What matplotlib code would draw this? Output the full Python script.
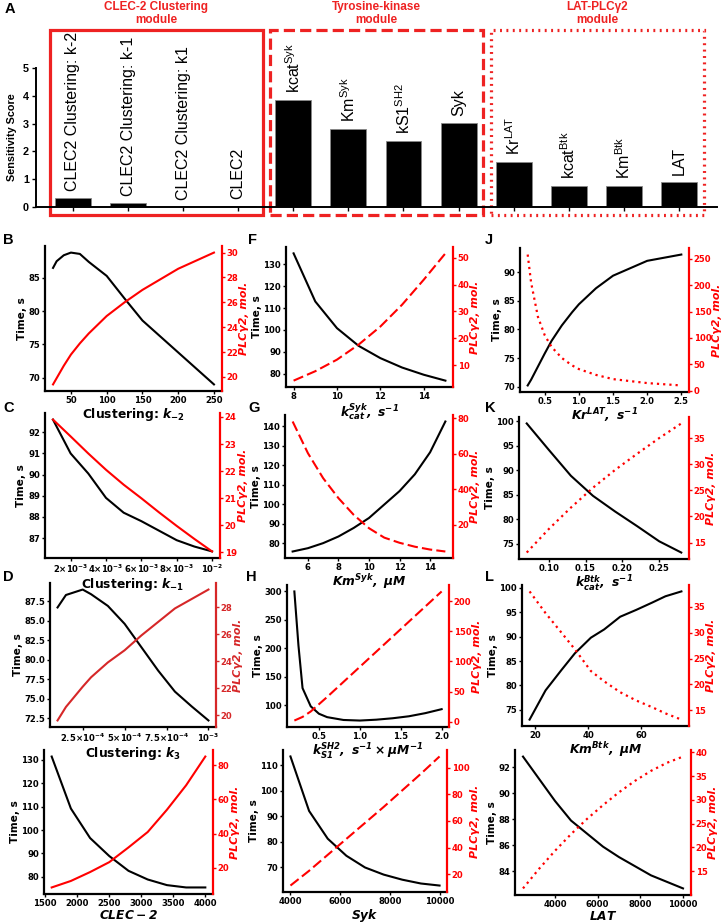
import matplotlib
matplotlib.use('Agg')
import matplotlib.pyplot as plt
from matplotlib.patches import Rectangle

W, H = 727, 922

plt.rcParams['font.family'] = 'DejaVu Sans'
plt.rcParams['font.weight'] = 'bold'
plt.rcParams['axes.labelweight'] = 'bold'

# ---- panel A: sensitivity scores ----
bar_labels = ['CLEC2 Clustering: k-2', 'CLEC2 Clustering: k-1', 'CLEC2 Clustering: k1', 'CLEC2',
              r'kcat$^{\mathregular{Syk}}$', r'Km$^{\mathregular{Syk}}$', r'kS1$^{\mathregular{SH2}}$', 'Syk',
              r'Kr$^{\mathregular{LAT}}$', r'kcat$^{\mathregular{Btk}}$', r'Km$^{\mathregular{Btk}}$', 'LAT']
scores = [0.33, 0.15, 0.0, 0.05, 3.85, 2.79, 2.37, 3.03, 1.63, 0.77, 0.77, 0.89]
module_titles = ['CLEC-2 Clustering\nmodule', 'Tyrosine-kinase\nmodule', 'LAT-PLCγ2\nmodule']

# ---- panels B-M: time (black) and PLCγ2 (red) ----
b_x = [25, 30, 40, 50, 62.5, 75, 100, 125, 150, 200, 250]
b_time = [86.5, 87.5, 88.4, 88.8, 88.6, 87.4, 85.3, 81.9, 78.6, 73.8, 69.0]
b_plc = [19.4, 19.9, 20.9, 21.8, 22.7, 23.5, 24.9, 26.0, 27.0, 28.7, 30.0]
b_xticks = [50, 100, 150, 200, 250]
b_tticks = [70, 75, 80, 85]
b_pticks = [20, 22, 24, 26, 28, 30]

c_x = [0.001, 0.002, 0.003, 0.004, 0.005, 0.006, 0.007, 0.008, 0.009, 0.010]
c_time = [92.6, 91.0, 90.05, 88.9, 88.2, 87.8, 87.35, 86.9, 86.6, 86.37]
c_plc = [23.9, 23.28, 22.65, 22.05, 21.5, 21.0, 20.48, 19.98, 19.5, 19.04]
c_xticks = [0.002, 0.004, 0.006, 0.008, 0.010]
c_xticklabels = [r'$\mathbf{2{\times}10^{-3}}$', r'$\mathbf{4{\times}10^{-3}}$', r'$\mathbf{6{\times}10^{-3}}$',
                 r'$\mathbf{8{\times}10^{-3}}$', r'$\mathbf{10^{-2}}$']
c_tticks = [87, 88, 89, 90, 91, 92]
c_pticks = [19, 20, 21, 22, 23, 24]

d_x = [1e-4, 1.5e-4, 2.5e-4, 3e-4, 4e-4, 5e-4, 6e-4, 7e-4, 8e-4, 9e-4, 1e-3]
d_time = [86.7, 88.3, 89.0, 88.4, 86.9, 84.6, 81.6, 78.6, 75.9, 74.0, 72.2]
d_plc = [19.6, 20.6, 22.1, 22.8, 23.9, 24.8, 25.9, 26.9, 27.9, 28.6, 29.3]
d_xticks = [2.5e-4, 5e-4, 7.5e-4, 1e-3]
d_xticklabels = [r'$\mathbf{2.5{\times}10^{-4}}$', r'$\mathbf{5{\times}10^{-4}}$',
                 r'$\mathbf{7.5{\times}10^{-4}}$', r'$\mathbf{10^{-3}}$']
d_tticks = [72.5, 75.0, 77.5, 80.0, 82.5, 85.0, 87.5]
d_pticks = [20, 22, 24, 26, 28]

e_x = [1600, 1900, 2200, 2500, 2800, 3100, 3400, 3700, 4000]
e_time = [131.4, 109.2, 96.6, 88.9, 82.6, 78.9, 76.5, 75.5, 75.5]
e_plc = [8.5, 12.3, 17.5, 23.3, 31.9, 40.9, 53.9, 68.2, 85.0]
e_xticks = [1500, 2000, 2500, 3000, 3500, 4000]
e_tticks = [80, 90, 100, 110, 120, 130]
e_pticks = [20, 40, 60, 80]

f_x = [8, 9, 10, 11, 12, 13, 14, 15]
f_time = [135.0, 113.0, 100.8, 92.7, 87.1, 82.8, 79.5, 76.8]
f_plc = [4.3, 7.8, 12.1, 17.7, 24.4, 32.5, 41.8, 51.6]
f_xticks = [8, 10, 12, 14]
f_tticks = [80, 90, 100, 110, 120, 130]
f_pticks = [10, 20, 30, 40, 50]

g_x = [5, 6, 7, 8, 9, 10, 11, 12, 13, 14, 15]
g_time = [75.7, 77.4, 80.0, 83.4, 87.8, 92.9, 99.8, 106.7, 115.3, 126.6, 142.4]
g_plc = [78.1, 60.3, 46.2, 35.0, 25.6, 18.1, 12.8, 9.9, 7.7, 6.1, 5.0]
g_xticks = [6, 8, 10, 12, 14]
g_tticks = [80, 90, 100, 110, 120, 130, 140]
g_pticks = [20, 40, 60, 80]

h_x = [0.2, 0.25, 0.3, 0.4, 0.5, 0.6, 0.8, 1.0, 1.2, 1.4, 1.6, 1.8, 2.0]
h_time = [300, 205, 130, 98, 85, 79, 74, 73, 74.5, 77, 80.5, 86, 93]
h_plc = [2, 5, 8, 17, 29, 41, 66, 91, 116, 141, 166, 191, 216]
h_xticks = [0.5, 1.0, 1.5, 2.0]
h_tticks = [100, 150, 200, 250, 300]
h_pticks = [0, 50, 100, 150, 200]

i_x = [4000, 4750, 5500, 6250, 7000, 7750, 8500, 9250, 10000]
i_time = [113.5, 92.1, 81.2, 74.5, 69.9, 67.1, 65.1, 63.6, 62.8]
i_plc = [11.4, 22.5, 34.5, 46.5, 58.5, 70.5, 83, 95.5, 108.5]
i_xticks = [4000, 6000, 8000, 10000]
i_tticks = [70, 80, 90, 100, 110]
i_pticks = [20, 40, 60, 80, 100]

j_x = [0.25, 0.3, 0.4, 0.5, 0.6, 0.75, 0.9, 1.0, 1.25, 1.5, 2.0, 2.5]
j_time = [70.2, 71.2, 73.5, 75.8, 78.0, 80.7, 83.0, 84.4, 87.2, 89.4, 92.0, 93.1]
j_plc = [258, 205, 140, 105, 83, 62, 48, 41, 30, 22, 14.5, 10]
j_xticks = [0.5, 1.0, 1.5, 2.0, 2.5]
j_tticks = [70, 75, 80, 85, 90]
j_pticks = [0, 50, 100, 150, 200, 250]

k_x = [0.07, 0.10, 0.13, 0.16, 0.19, 0.22, 0.25, 0.28]
k_time = [99.6, 94.2, 88.9, 84.8, 81.6, 78.6, 75.5, 73.2]
k_plc = [13.1, 17.6, 21.7, 25.5, 28.9, 32.0, 35.0, 37.8]
k_xticks = [0.10, 0.15, 0.20, 0.25]
k_tticks = [75, 80, 85, 90, 95, 100]
k_pticks = [15, 20, 25, 30, 35]

l_x = [18, 24, 30, 35, 41, 46, 52, 58, 64, 69, 75]
l_time = [73.0, 79.0, 83.2, 86.6, 89.8, 91.5, 94.1, 95.5, 97.0, 98.3, 99.3]
l_plc = [38.0, 33.8, 30.0, 26.8, 22.6, 20.6, 18.5, 16.9, 15.6, 14.4, 13.2]
l_xticks = [20, 40, 60]
l_tticks = [75, 80, 85, 90, 95, 100]
l_pticks = [15, 20, 25, 30, 35]

m_x = [2500, 3250, 4000, 4750, 5500, 6250, 7000, 7750, 8500, 9250, 10000]
m_time = [92.8, 91.1, 89.4, 87.9, 86.9, 85.9, 85.1, 84.4, 83.7, 83.2, 82.7]
m_plc = [11.4, 15.5, 19.3, 22.8, 26.0, 28.9, 31.6, 34.0, 36.1, 37.8, 39.1]
m_xticks = [4000, 6000, 8000, 10000]
m_tticks = [84, 86, 88, 90, 92]
m_pticks = [15, 20, 25, 30, 35, 40]


def px_rect(l, t, r, b):
    return [l / W, 1 - b / H, (r - l) / W, (b - t) / H]


def draw_panel(fig, rect, x, t, p, xlabel, ls, red, xticks, tticks, pticks, xticklabels=None):
    ax = fig.add_axes(px_rect(*rect))
    ax.set_facecolor('none')
    ax.plot(x, t, color='black', lw=1.5)
    ax2 = ax.twinx()
    if ls == ':':
        ax2.plot(x, p, color=red, lw=1.6, linestyle=(0, (1, 1.8)))
    else:
        ax2.plot(x, p, color=red, lw=1.5, linestyle=ls)
    for s in ['top', 'right']:
        ax.spines[s].set_visible(False)
    for s in ['top', 'left', 'bottom']:
        ax2.spines[s].set_visible(False)
    ax.spines['left'].set_linewidth(1.6)
    ax.spines['bottom'].set_linewidth(1.6)
    ax2.spines['right'].set_linewidth(1.6)
    ax2.spines['right'].set_color(red)
    ax.tick_params(labelsize=6.1, width=1, length=2.2, pad=1.3)
    ax2.tick_params(labelsize=6.1, width=1, length=2.2, pad=1.3, colors=red)
    if xticklabels is not None:
        ax.set_xticks(xticks, xticklabels)
    else:
        ax.set_xticks(xticks)
    ax.set_yticks(tticks)
    ax2.set_yticks(pticks)
    for lab in ax.get_xticklabels() + ax.get_yticklabels() + ax2.get_yticklabels():
        lab.set_fontweight('bold')
    ax.set_xlabel(xlabel, fontsize=8.8, labelpad=0.5)
    ax.set_ylabel('Time, s', fontsize=7.6, labelpad=1.2)
    ax2.set_ylabel('PLCγ2, mol.', fontsize=7.9, color=red, fontstyle='italic', labelpad=0.5)
    return ax, ax2


fig = plt.figure(figsize=(W / 100, H / 100), dpi=100)

# panel A
axa = fig.add_axes(px_rect(36, 68, 717, 207))
pos = list(range(len(scores)))
axa.bar(pos, scores, width=0.65, color='black', edgecolor='#888888', linewidth=0.6)
axa.set_xlim(-0.67, 11.69)
axa.set_ylim(0, 5)
axa.set_xticks(pos, [''] * len(pos))
axa.set_yticks([0, 1, 2, 3, 4, 5])
axa.tick_params(axis='y', labelsize=7.8, width=1, length=3, pad=2)
axa.tick_params(axis='x', width=1, length=3)
for lab in axa.get_yticklabels():
    lab.set_fontfamily('Liberation Sans')
    lab.set_fontweight('bold')
axa.spines['top'].set_visible(False)
axa.spines['right'].set_visible(False)
axa.spines['left'].set_linewidth(1.4)
axa.spines['bottom'].set_linewidth(1.4)
axa.set_ylabel('Sensitivity Score', fontsize=7.8, family='Liberation Sans', labelpad=4)
for xi, v, lab in zip(pos, scores, bar_labels):
    axa.annotate(lab, (xi, v), xytext=(0, 5), textcoords='offset points', rotation=90,
                 ha='center', va='bottom', fontsize=11.5, fontweight='normal',
                 family='Liberation Sans', annotation_clip=False)
box_styles = ['-', (0, (3.5, 1.6)), (0, (0.6, 1.4))]
for g, (title, bst) in enumerate(zip(module_titles, box_styles)):
    x0 = 4 * g - 0.42
    x1 = 4 * g + 3.45
    axa.add_patch(Rectangle((x0, -0.29), x1 - x0, 6.66, fill=False, edgecolor='#ee2222',
                            lw=2.3, linestyle=bst, clip_on=False))
    axa.text((x0 + x1) / 2, 6.95, title, ha='center', va='center', color='#ee2222',
             fontsize=8.5, fontweight='bold', family='Liberation Sans', linespacing=1.15)

dash = (0, (5, 2))
panels = [
    ((45, 246, 222, 391), b_x, b_time, b_plc, r'Clustering: $\mathbfit{k}_{\mathbf{-2}}$', '-', 'red',
     b_xticks, b_tticks, b_pticks, None),
    ((45, 413, 220, 558), c_x, c_time, c_plc, r'Clustering: $\mathbfit{k}_{\mathbf{-1}}$', '-', 'red',
     c_xticks, c_tticks, c_pticks, c_xticklabels),
    ((50, 583, 216, 727), d_x, d_time, d_plc, r'Clustering: $\mathbfit{k}_{\mathbf{3}}$', '-', '#d62728',
     d_xticks, d_tticks, d_pticks, d_xticklabels),
    ((44, 750, 213, 894), e_x, e_time, e_plc, r'$\mathbfit{CLEC-2}$', '-', 'red',
     e_xticks, e_tticks, e_pticks, None),
    ((286, 247, 453, 387), f_x, f_time, f_plc, r'$\mathbfit{k_{cat}^{Syk},\ s^{-1}}$', dash, 'red',
     f_xticks, f_tticks, f_pticks, None),
    ((285, 415, 453, 558), g_x, g_time, g_plc, r'$\mathbfit{Km^{Syk},\ \mu M}$', dash, 'red',
     g_xticks, g_tticks, g_pticks, None),
    ((287, 585, 449, 727), h_x, h_time, h_plc, r'$\mathbfit{k_{S1}^{SH2},\ s^{-1}\times\mu M^{-1}}$', dash, 'red',
     h_xticks, h_tticks, h_pticks, None),
    ((283, 750, 447, 892), i_x, i_time, i_plc, r'$\mathbfit{Syk}$', dash, 'red',
     i_xticks, i_tticks, i_pticks, None),
    ((520, 248, 689, 392), j_x, j_time, j_plc, r'$\mathbfit{Kr^{LAT},\ s^{-1}}$', ':', 'red',
     j_xticks, j_tticks, j_pticks, None),
    ((519, 417, 689, 559), k_x, k_time, k_plc, r'$\mathbfit{k_{cat}^{Btk},\ s^{-1}}$', ':', 'red',
     k_xticks, k_tticks, k_pticks, None),
    ((522, 585, 689, 726), l_x, l_time, l_plc, r'$\mathbfit{Km^{Btk},\ \mu M}$', ':', 'red',
     l_xticks, l_tticks, l_pticks, None),
    ((515, 750, 691, 895), m_x, m_time, m_plc, r'$\mathbfit{LAT}$', ':', 'red',
     m_xticks, m_tticks, m_pticks, None),
]
for rect, x, t, p, xl, ls, col, xt, tt, pt, xtl in panels:
    draw_panel(fig, rect, x, t, p, xl, ls, col, xt, tt, pt, xtl)

letters = [('A', 5, 2), ('B', 3, 233), ('C', 3, 401), ('D', 3, 570), ('F', 248, 233), ('G', 248, 401),
           ('H', 246, 570), ('J', 485, 233), ('K', 485, 401), ('L', 485, 570)]
for s, lx, ly in letters:
    fig.text(lx / W, 1 - ly / H, s, fontsize=10.5, fontweight='bold', family='Liberation Sans',
             ha='left', va='top')

fig.savefig('out.png', dpi=100)
